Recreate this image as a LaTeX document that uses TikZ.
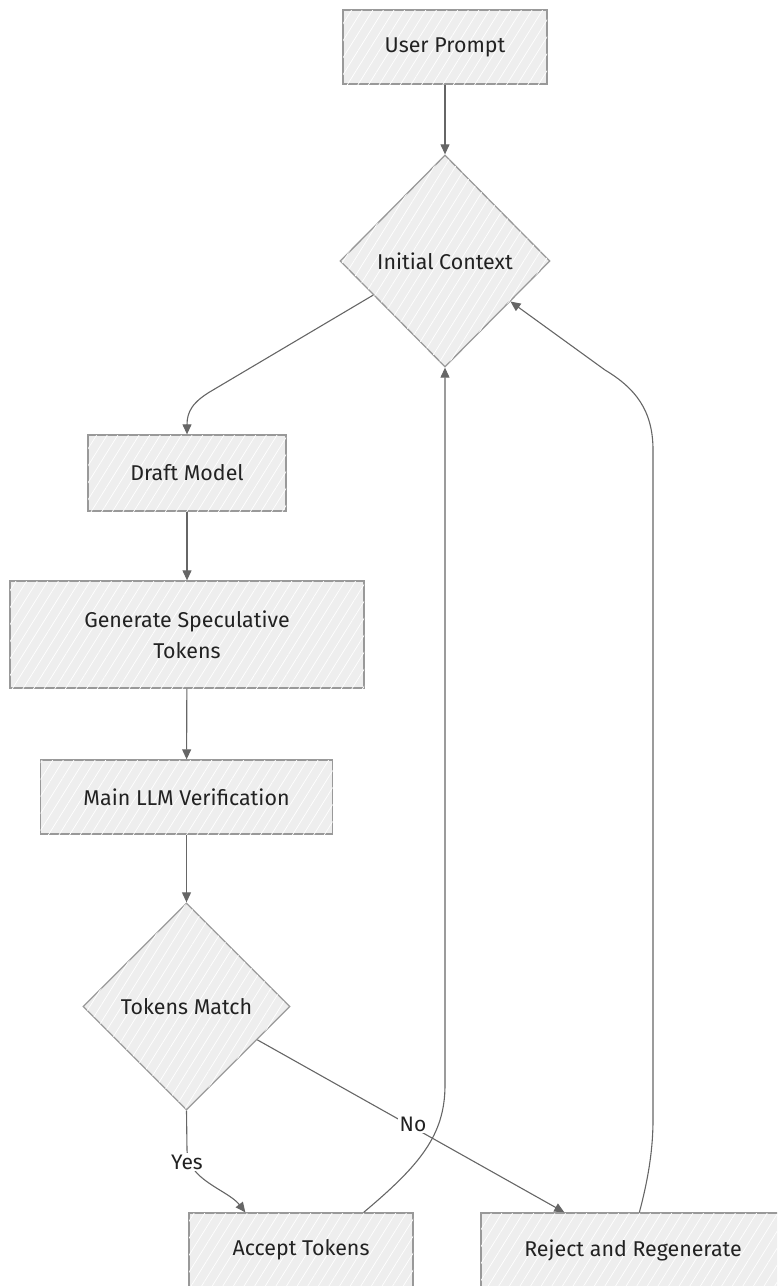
\documentclass[tikz,border=0pt]{standalone}
\usepackage{fontspec}
\setmainfont{Fira Sans}
\usetikzlibrary{shapes.geometric,arrows.meta,patterns.meta,calc}
\definecolor{boxfill}{HTML}{EEEEEE}
\definecolor{boxline}{HTML}{999999}
\definecolor{edgec}{HTML}{666666}
\definecolor{txt}{HTML}{222222}
\tikzset{
  base/.style={draw=boxline, line width=1.3pt, fill=boxfill,
    postaction={pattern={Lines[angle=58,distance=9pt,line width=0.7pt]}, pattern color=white},
    text=txt, font=\fontsize{21.4}{31}\selectfont, inner sep=0pt, align=center},
  proc/.style={base, rectangle},
  dec/.style={base, diamond, aspect=1},
  arr/.style={draw=edgec, line width=1.1pt, -{Triangle[length=10pt,width=9pt]}},
  lbl/.style={fill=white, text=txt, font=\fontsize{21}{25}\selectfont, inner sep=1.5pt}
}
\begin{document}
\begin{tikzpicture}[x=1pt,y=-1pt]
\useasboundingbox (0,0) rectangle (777,1286);
\clip (0,0) rectangle (777,1286);
\node[proc, minimum width=204pt, minimum height=74pt] (up) at (445,47) {User Prompt};
\node[dec, minimum width=210pt, minimum height=212pt] (ic) at (445,261) {Initial Context};
\node[proc, minimum width=198pt, minimum height=76pt] (dm) at (187,473) {Draft Model};
\node[proc, minimum width=354pt, minimum height=107pt] (gst) at (187,634.5) {Generate Speculative\\Tokens};
\node[proc, minimum width=292pt, minimum height=74pt] (mlv) at (186.5,797) {Main LLM Verification};
\node[dec, minimum width=207pt, minimum height=207pt] (tm) at (186.5,1006.5) {Tokens Match};
\node[proc, minimum width=224pt, minimum height=74pt] (acc) at (301,1250) {Accept Tokens};
\node[proc, minimum width=304pt, minimum height=74pt] (rej) at (633,1250) {Reject and Regenerate};

\coordinate (s1) at ($(ic.west)!0.32!(ic.south)$);
\coordinate (s2) at ($(tm.east)!0.32!(tm.south)$);
\coordinate (e1) at ($(ic.east)!0.38!(ic.south)$);
\coordinate (ya) at ($(acc.north west)+(57,0)$);
\coordinate (nr) at ($(rej.north west)+(84,0)$);
\coordinate (a1) at ($(acc.north east)+(-50,0)$);
\coordinate (r1) at ($(rej.north west)+(159,0)$);

\draw[arr] (up) -- (ic);
\draw[arr] (s1) -- (213,390) .. controls (192,402) and (187,412) .. (187,425) -- (dm.north);
\draw[arr] (dm) -- (gst);
\draw[arr] (gst) -- (mlv);
\draw[arr] (mlv) -- (tm);
\draw[arr] (tm.south) -- (187,1150) .. controls (187,1180) and (228,1190) .. (ya);
\draw[arr] (s2) -- (nr);
\draw[arr] (a1) .. controls (420,1165) and (445,1135) .. (445,1085) -- (ic.south);
\draw[arr] (r1) .. controls (648,1180) and (653,1150) .. (653,1120) -- (653,450) .. controls (653,410) and (635,388) .. (605,370) -- (e1);

\node[lbl] (ly) at (187,1162) {Yes};
\node[lbl] (ln) at (413,1124) {No};
\end{tikzpicture}
\end{document}
